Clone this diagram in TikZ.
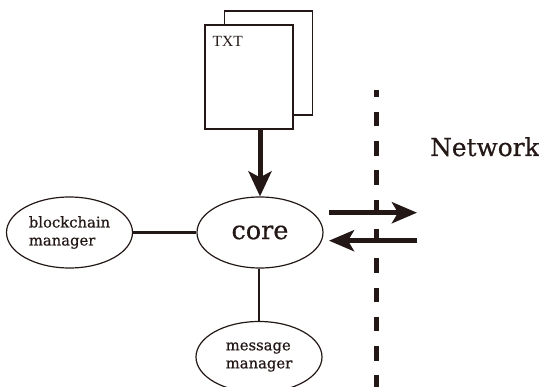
\documentclass[tikz,border=0pt]{standalone}
\usepackage{fontspec}
\setmainfont{DejaVu Serif}[FakeBold=0.6]
\newfontfamily\txtfont{Liberation Serif}
\usetikzlibrary{shapes.geometric,arrows.meta}
\definecolor{ink}{RGB}{35,24,21}
\tikzset{
  module/.style={draw=ink, line width=1.2pt, ellipse, inner sep=0pt,
    minimum width=126pt, minimum height=71pt, text=ink},
  modtext/.style={font=\fontsize{14.8}{18}\selectfont, align=left},
  docpage/.style={draw=ink, line width=1.1pt, fill=white, inner sep=0pt,
    minimum width=88pt, minimum height=104pt},
  link/.style={draw=ink, line width=2.6pt},
  flow/.style={draw=ink, line width=5pt,
    -{Stealth[length=25pt, width=23pt, inset=6pt]}},
  netflow/.style={flow, -{Stealth[length=25pt, width=21pt, inset=6pt]}},
  boundary/.style={draw=ink, line width=5pt,
    dash pattern=on 14.5pt off 14.8pt, dash phase=7.5pt}
}
\begin{document}
\begin{tikzpicture}[x=1pt, y=-1pt]
  \useasboundingbox (0,0) rectangle (539,387);
  \clip (0,0) rectangle (539,387);

  % stacked text documents
  \node[docpage] (back)  at (268.5,63) {};
  \node[docpage] (front) at (249,77) {};
  \node[anchor=north west, inner sep=0pt, text=ink,
        font=\txtfont\fontsize{15.5}{18}\selectfont] (txt)
        at ([xshift=8pt, yshift=-12pt]front.north west) {TXT};

  % modules
  \node[module, font=\fontsize{25.5}{28}\selectfont] (core) at (260,232.5) {core};
  \node[module, modtext] (chain) at (69.5,232.5) {blockchain\\manager};
  \node[module, modtext] (msg)   at (259,357) {message\\manager};

  \draw[flow] (core.north |- front.south) -- (core.north);
  \draw[link] (chain.east) -- (chain.east -| core.west);
  \draw[link] (core.south -| msg.north) -- (msg.north);

  % network boundary and traffic
  \coordinate (bndtop) at (376.7,90);
  \coordinate (bndbot) at (376.7,392);
  \draw[boundary] (bndtop) -- (bndbot);

  \coordinate (outA) at (329,212.7);
  \coordinate (outB) at (417,212.7);
  \coordinate (inA)  at (417,240.7);
  \coordinate (inB)  at (329,240.7);
  \draw[netflow] (outA) -- (outB);
  \draw[netflow] (inA) -- (inB);

  \node[anchor=base west, inner sep=0pt, text=ink,
        font=\fontsize{24.8}{28}\selectfont] (net) at (430,156) {Network};
\end{tikzpicture}
\end{document}
